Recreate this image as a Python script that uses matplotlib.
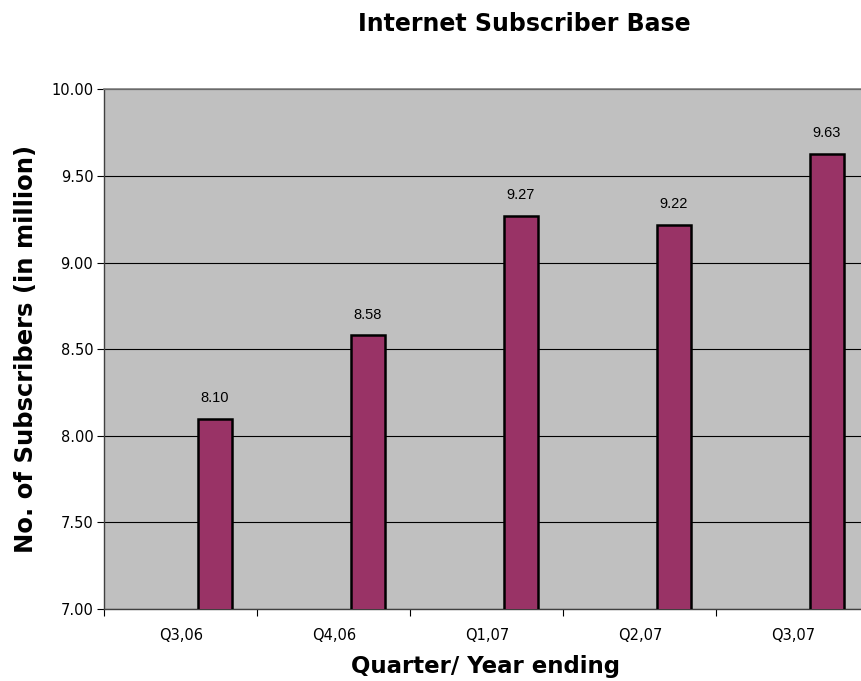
import numpy as np
import matplotlib.pyplot as plt

# Internet subscriber base per quarter (millions)
quarters = ['Q3,06', 'Q4,06', 'Q1,07', 'Q2,07', 'Q3,07']
subscribers = [8.10, 8.58, 9.27, 9.22, 9.63]
yticks = [7.00, 7.50, 8.00, 8.50, 9.00, 9.50, 10.00]

fig = plt.figure(figsize=(8.62, 6.81), dpi=100)
# plot area runs past the right edge of the figure
ax = fig.add_axes([0.1212, 0.1057, 0.8875, 0.7629])
ax.set_facecolor('#C0C0C0')

x = np.arange(len(quarters))
bar_w = 0.222
bars = ax.bar(x + bar_w, subscribers, width=bar_w, bottom=0,
              color='#993366', edgecolor='black', linewidth=1.8, zorder=3)

for xi, v in zip(x + bar_w, subscribers):
    ax.text(xi, v + 0.08, f'{v:.2f}', ha='center', va='bottom',
            fontsize=10.5, family='Liberation Sans', color='black')

ax.set_xlim(-0.5, len(quarters) - 0.5)
ax.set_ylim(7.0, 10.0)
ax.set_yticks(yticks)
ax.set_yticklabels([f'{t:.2f}' for t in yticks], fontsize=10.5)
ax.yaxis.grid(True, color='black', linewidth=0.8, zorder=1)
ax.set_axisbelow(True)

ax.set_xticks(x)
ax.set_xticklabels(quarters, fontsize=10.5)
ax.set_xticks(np.arange(len(quarters) + 1) - 0.5, minor=True)
ax.tick_params(axis='x', which='major', length=0, pad=14)
ax.tick_params(axis='x', which='minor', length=5, width=0.8, direction='out')
ax.tick_params(axis='y', length=5, width=0.8, direction='out', pad=3)

for side in ['top', 'right']:
    ax.spines[side].set_color('#808080')
    ax.spines[side].set_linewidth(1.2)
for side in ['left', 'bottom']:
    ax.spines[side].set_color('#404040')
    ax.spines[side].set_linewidth(1.0)

fig.text(0.608, 0.955, 'Internet Subscriber Base', ha='center', va='baseline',
         fontsize=17, fontweight='bold')
fig.text(0.563, 0.0117, 'Quarter/ Year ending', ha='center', va='baseline',
         fontsize=16.5, fontweight='bold')
fig.text(0.0383, 0.487, 'No. of Subscribers (in million)', ha='center', va='baseline',
         rotation=90, rotation_mode='anchor', fontsize=17.5, fontweight='bold')

fig.savefig('out.png', dpi=100)
